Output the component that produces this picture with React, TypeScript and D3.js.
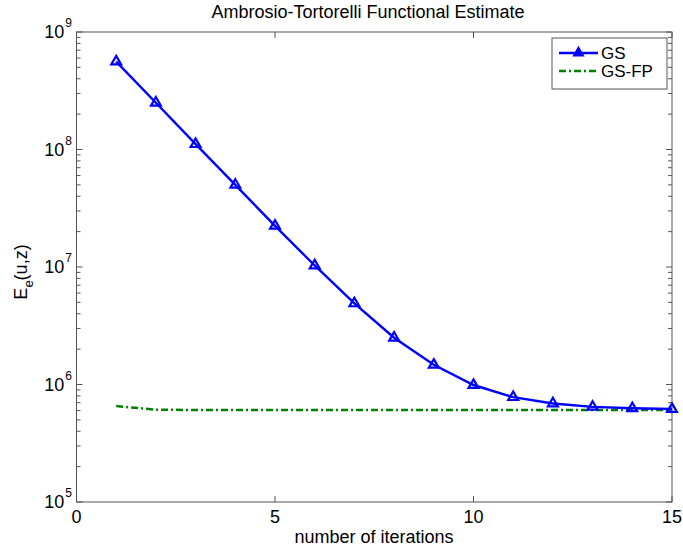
import React, { useEffect, useRef } from 'react';
import * as d3 from 'd3';

const iterations = [1, 2, 3, 4, 5, 6, 7, 8, 9, 10, 11, 12, 13, 14, 15];
const gsValues = [5.6e8, 2.5e8, 1.11e8, 5.0e7, 2.24e7, 1.03e7, 4.9e6, 2.5e6, 1.47e6, 9.9e5, 7.8e5, 6.9e5, 6.45e5, 6.27e5, 6.18e5];
const gsfpValues = [6.55e5, 6.1e5, 6.07e5, 6.07e5, 6.07e5, 6.07e5, 6.07e5, 6.07e5, 6.07e5, 6.07e5, 6.07e5, 6.07e5, 6.07e5, 6.07e5, 6.07e5];
const xTicks = [0, 5, 10, 15];
const yExponents = [5, 6, 7, 8, 9];
const seriesNames = ['GS', 'GS-FP'];

const W = 683;
const H = 549;
const plot = { left: 76.5, right: 672, top: 32, bottom: 502 };
const font = 'Liberation Sans, Arial, sans-serif';
const axisColor = '#555';

export default function App() {
  const root = useRef<SVGSVGElement>(null);

  useEffect(() => {
    const svg = d3.select(root.current);
    svg.selectAll('*').remove();

    const x = d3.scaleLinear().domain([0, 15]).range([plot.left, plot.right]);
    const y = d3.scaleLog().domain([1e5, 1e9]).range([plot.bottom, plot.top]);

    const g = svg.append('g');

    // box
    g.append('rect')
      .attr('x', plot.left)
      .attr('y', plot.top)
      .attr('width', plot.right - plot.left)
      .attr('height', plot.bottom - plot.top)
      .attr('fill', 'none')
      .attr('stroke', axisColor)
      .attr('stroke-width', 1);

    // x ticks (inside, bottom and top)
    xTicks.forEach(t => {
      const px = x(t);
      g.append('line').attr('x1', px).attr('x2', px).attr('y1', plot.bottom).attr('y2', plot.bottom - 6).attr('stroke', axisColor);
      g.append('line').attr('x1', px).attr('x2', px).attr('y1', plot.top).attr('y2', plot.top + 6).attr('stroke', axisColor);
      g.append('text')
        .attr('x', px)
        .attr('y', 523)
        .attr('text-anchor', 'middle')
        .attr('font-family', font)
        .attr('font-size', 18)
        .text(t);
    });

    // y ticks, major + minor
    yExponents.forEach(e => {
      const py = y(Math.pow(10, e));
      g.append('line').attr('x1', plot.left).attr('x2', plot.left + 6).attr('y1', py).attr('y2', py).attr('stroke', axisColor);
      g.append('line').attr('x1', plot.right).attr('x2', plot.right - 6).attr('y1', py).attr('y2', py).attr('stroke', axisColor);
      const label = g.append('text')
        .attr('x', 72)
        .attr('y', py + 6)
        .attr('text-anchor', 'end')
        .attr('font-family', font)
        .attr('font-size', 18);
      label.append('tspan').text('10');
      label.append('tspan').attr('dx', 1).attr('dy', -11).attr('font-size', 12).text(e);
      if (e < 9) {
        for (let m = 2; m <= 9; m++) {
          const my = y(m * Math.pow(10, e));
          g.append('line').attr('x1', plot.left).attr('x2', plot.left + 4).attr('y1', my).attr('y2', my).attr('stroke', axisColor);
          g.append('line').attr('x1', plot.right).attr('x2', plot.right - 4).attr('y1', my).attr('y2', my).attr('stroke', axisColor);
        }
      }
    });

    const line = d3.line<number>()
      .x((d, i) => x(iterations[i]))
      .y(d => y(d));

    g.append('path')
      .attr('d', line(gsfpValues))
      .attr('fill', 'none')
      .attr('stroke', '#008000')
      .attr('stroke-width', 2.5)
      .attr('stroke-dasharray', '7,3,2,3');

    g.append('path')
      .attr('d', line(gsValues))
      .attr('fill', 'none')
      .attr('stroke', '#0000ff')
      .attr('stroke-width', 2.4);

    const tri = d3.symbol().type(d3.symbolTriangle).size(42);
    g.selectAll('.mk')
      .data(gsValues)
      .enter()
      .append('path')
      .attr('class', 'mk')
      .attr('d', tri())
      .attr('transform', (d, i) => `translate(${x(iterations[i])},${y(d)})`)
      .attr('fill', 'none')
      .attr('stroke', '#0000ff')
      .attr('stroke-width', 2.2);

    // legend
    const lg = g.append('g');
    lg.append('rect')
      .attr('x', 552)
      .attr('y', 38)
      .attr('width', 115)
      .attr('height', 51)
      .attr('fill', '#fff')
      .attr('stroke', axisColor);
    lg.append('line').attr('x1', 559).attr('x2', 598).attr('y1', 53).attr('y2', 53).attr('stroke', '#0000ff').attr('stroke-width', 2.4);
    lg.append('path').attr('d', tri()).attr('transform', 'translate(578.5,53)').attr('fill', '#0000ff').attr('stroke', '#0000ff').attr('stroke-width', 1.5);
    lg.append('line').attr('x1', 559).attr('x2', 598).attr('y1', 71).attr('y2', 71).attr('stroke', '#008000').attr('stroke-width', 2.5).attr('stroke-dasharray', '7,3,2,3');
    seriesNames.forEach((n, i) => {
      lg.append('text')
        .attr('x', 601)
        .attr('y', 59 + i * 18)
        .attr('font-family', font)
        .attr('font-size', 17)
        .text(n);
    });

    // title and labels
    g.append('text')
      .attr('x', 368)
      .attr('y', 18)
      .attr('text-anchor', 'middle')
      .attr('font-family', font)
      .attr('font-size', 18)
      .text('Ambrosio-Tortorelli Functional Estimate');

    g.append('text')
      .attr('x', 374)
      .attr('y', 543)
      .attr('text-anchor', 'middle')
      .attr('font-family', font)
      .attr('font-size', 18)
      .text('number of iterations');

    const yl = g.append('text')
      .attr('transform', 'translate(27,272) rotate(-90)')
      .attr('text-anchor', 'middle')
      .attr('font-family', font)
      .attr('font-size', 18);
    yl.append('tspan').text('E');
    yl.append('tspan').attr('dy', 6).attr('font-size', 13).text('e');
    yl.append('tspan').attr('dy', -6).text('(u,z)');
  }, []);

  return (
    <svg
      ref={root}
      width={W}
      height={H}
      style={{ position: 'absolute', left: 0, top: 0, background: '#fff' }}
    />
  );
}
